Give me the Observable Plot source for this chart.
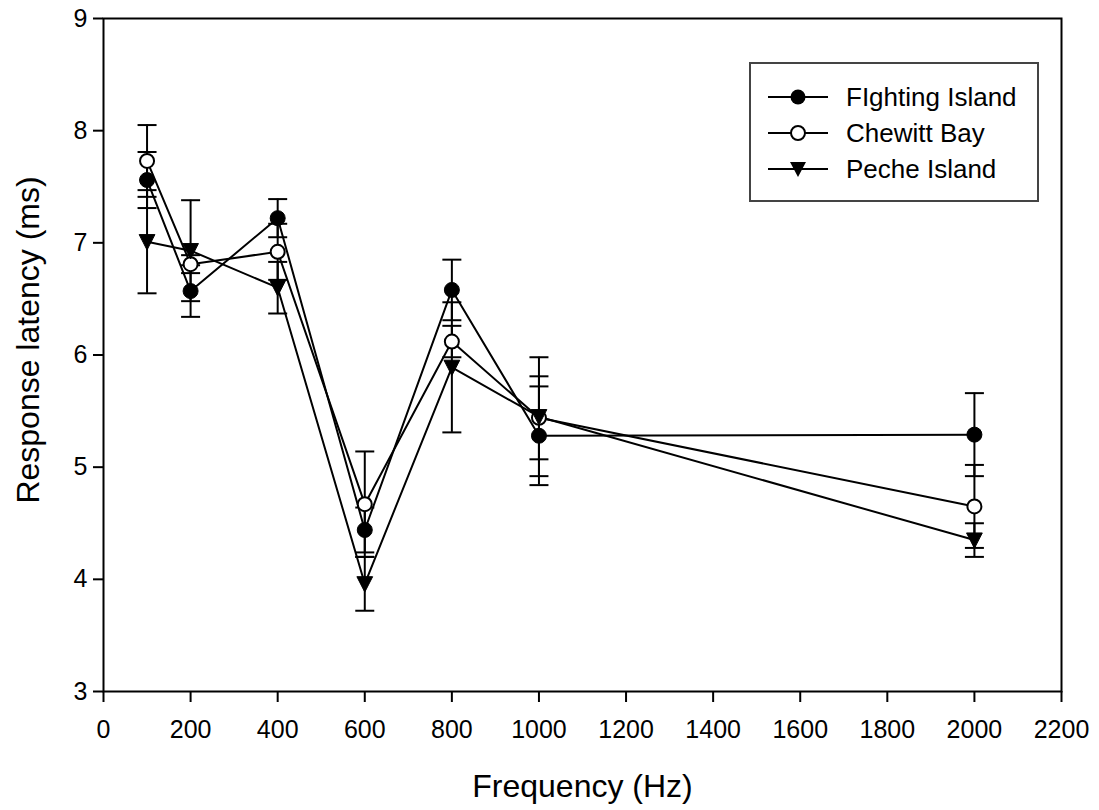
<!DOCTYPE html>
<html>
<head>
<meta charset="utf-8">
<script src="https://cdn.jsdelivr.net/npm/d3@7"></script>
<script src="https://cdn.jsdelivr.net/npm/@observablehq/plot@0.6"></script>
<style>
  html, body { margin: 0; padding: 0; background: #fff; }
  #wrap { position: relative; width: 1099px; height: 810px; font-family: "Liberation Sans", Arial, sans-serif; }
  #legend { position: absolute; left: 749px; top: 62px; width: 286px; height: 136px; border: 2px solid #444; background: #fff; box-sizing: content-box; }
  .row { position: absolute; left: 0; height: 36px; display: flex; align-items: center; }
  .row span { font-size: 26px; color: #000; margin-left: 16px; }
  #wrap svg [aria-label$="tick label"] { font-size: 25px; }
</style>
</head>
<body>
<div id="wrap"></div>
<script>
const frequencies = [100, 200, 400, 600, 800, 1000, 2000];
const seriesNames = ["FIghting Island", "Chewitt Bay", "Peche Island"];
const fightingMean = [7.56, 6.57, 7.22, 4.44, 6.58, 5.28, 5.29];
const fightingErr  = [0.25, 0.23, 0.17, 0.20, 0.27, 0.44, 0.37];
const chewittMean  = [7.73, 6.81, 6.92, 4.67, 6.12, 5.44, 4.65];
const chewittErr   = [0.32, 0.08, 0.25, 0.47, 0.14, 0.37, 0.37];
const pecheMean    = [7.01, 6.93, 6.60, 3.96, 5.89, 5.45, 4.35];
const pecheErr     = [0.46, 0.45, 0.23, 0.24, 0.58, 0.53, 0.15];
const xTicks = [0, 200, 400, 600, 800, 1000, 1200, 1400, 1600, 1800, 2000, 2200];
const yTicks = [3, 4, 5, 6, 7, 8, 9];

const means = [fightingMean, chewittMean, pecheMean];
const errs = [fightingErr, chewittErr, pecheErr];
const rows = [];
seriesNames.forEach((s, i) => {
  frequencies.forEach((f, j) => {
    rows.push({series: s, freq: f, mean: means[i][j], lo: means[i][j] - errs[i][j], hi: means[i][j] + errs[i][j]});
  });
});

const downTriangle = {
  draw(ctx, size) {
    const r = Math.sqrt(size / Math.PI);
    ctx.moveTo(-r * 1.05, -r * 0.95);
    ctx.lineTo(r * 1.05, -r * 0.95);
    ctx.lineTo(0, r * 1.1);
    ctx.closePath();
  }
};
const capSymbol = {
  draw(ctx, size) {
    const r = Math.sqrt(size / Math.PI);
    ctx.moveTo(-r, 0);
    ctx.lineTo(r, 0);
  }
};

const chart = Plot.plot({
  width: 1099,
  height: 810,
  marginLeft: 103,
  marginRight: 38,
  marginTop: 18,
  marginBottom: 119,
  style: {fontFamily: "'Liberation Sans', Arial, sans-serif", fontSize: "25px", color: "#000", background: "#fff", overflow: "visible"},
  x: {domain: [0, 2200]},
  y: {domain: [3, 9]},
  marks: [
    Plot.frame({stroke: "#000", strokeWidth: 2}),
    Plot.axisX({ticks: xTicks, tickFormat: d => String(d), tickSize: 11, tickPadding: 18, fontSize: 25, strokeWidth: 2, label: null}),
    Plot.axisY({ticks: yTicks, tickFormat: d => String(d), tickSize: 10, tickPadding: 6, fontSize: 25, strokeWidth: 2, label: null}),
    Plot.text(["Frequency (Hz)"], {frameAnchor: "bottom", textAnchor: "middle", lineAnchor: "middle", dy: 95, fontSize: 32, fill: "#000"}),
    Plot.text(["Response latency (ms)"], {frameAnchor: "left", textAnchor: "middle", lineAnchor: "middle", dx: -75, dy: -15, rotate: -90, fontSize: 32, fill: "#000"}),
    Plot.ruleX(rows, {x: "freq", y1: "lo", y2: "hi", stroke: "#000", strokeWidth: 2}),
    Plot.dot(rows, {x: "freq", y: "lo", symbol: capSymbol, r: 9.5, stroke: "#000", strokeWidth: 2, fill: "none"}),
    Plot.dot(rows, {x: "freq", y: "hi", symbol: capSymbol, r: 9.5, stroke: "#000", strokeWidth: 2, fill: "none"}),
    Plot.line(rows, {x: "freq", y: "mean", z: "series", stroke: "#000", strokeWidth: 2}),
    Plot.dot(rows.filter(d => d.series === seriesNames[0]), {x: "freq", y: "mean", r: 7.5, fill: "#000", stroke: "#000", strokeWidth: 1}),
    Plot.dot(rows.filter(d => d.series === seriesNames[1]), {x: "freq", y: "mean", r: 7, fill: "#fff", stroke: "#000", strokeWidth: 2}),
    Plot.dot(rows.filter(d => d.series === seriesNames[2]), {x: "freq", y: "mean", symbol: downTriangle, r: 7.5, fill: "#000", stroke: "#000", strokeWidth: 1})
  ]
});
const wrap = document.getElementById("wrap");
wrap.appendChild(chart);

// Legend
const legend = document.createElement("div");
legend.id = "legend";
const icons = [
  '<circle cx="30" cy="18" r="7.5" fill="#000"/>',
  '<circle cx="30" cy="18" r="7" fill="#fff" stroke="#000" stroke-width="2"/>',
  '<path d="M22,11 L38,11 L30,26 Z" fill="#000"/>'
];
seriesNames.forEach((s, i) => {
  const row = document.createElement("div");
  row.className = "row";
  row.style.top = (15 + i * 36) + "px";
  row.style.left = "17px";
  row.innerHTML = '<svg width="62" height="36" style="overflow:visible"><line x1="0" x2="60" y1="18" y2="18" stroke="#000" stroke-width="2"/>' + icons[i] + '</svg><span>' + s + '</span>';
  legend.appendChild(row);
});
wrap.appendChild(legend);
</script>
</body>
</html>
